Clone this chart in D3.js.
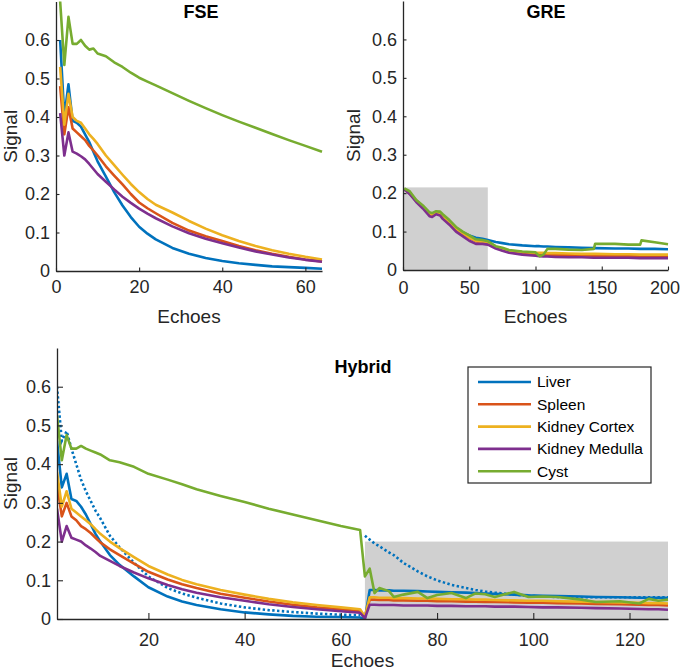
<!DOCTYPE html>
<html><head><meta charset="utf-8">
<script src="https://cdn.jsdelivr.net/npm/d3@7"></script>
<style>
body{margin:0;background:#fff;}
svg{display:block;font-family:"Liberation Sans",Arial,sans-serif;}
</style></head>
<body>
<svg id="chart" width="681" height="672"></svg>
<script>
// ---------- DATA ----------
const seriesNames = ["Liver","Spleen","Kidney Cortex","Kidney Medulla","Cyst"];

// FSE panel
const fseEchoes = [1,2,3,4,5,6,7,8,9,10,12,14,16,18,20,22,24,28,32,36,40,44,48,52,56,60,64];
const fseLiver  = [0.60,0.40,0.485,0.39,0.385,0.375,0.355,0.335,0.31,0.285,0.245,0.205,0.17,0.14,0.115,0.097,0.082,0.06,0.045,0.034,0.026,0.02,0.016,0.012,0.01,0.008,0.006];
const fseSpleen = [0.48,0.355,0.425,0.37,0.36,0.35,0.34,0.325,0.313,0.30,0.272,0.248,0.225,0.2,0.178,0.163,0.15,0.125,0.105,0.09,0.078,0.065,0.054,0.045,0.037,0.03,0.025];
const fseCortex = [0.53,0.38,0.46,0.40,0.39,0.385,0.37,0.355,0.343,0.33,0.30,0.275,0.25,0.226,0.205,0.187,0.172,0.152,0.13,0.11,0.093,0.078,0.065,0.054,0.045,0.037,0.03];
const fseMedulla= [0.41,0.30,0.36,0.31,0.305,0.298,0.29,0.278,0.265,0.252,0.232,0.212,0.193,0.177,0.162,0.149,0.137,0.116,0.098,0.084,0.072,0.061,0.051,0.043,0.035,0.029,0.024];
const fseCyst   = [0.70,0.535,0.66,0.59,0.59,0.60,0.585,0.575,0.578,0.565,0.558,0.542,0.53,0.515,0.502,0.492,0.482,0.462,0.442,0.423,0.405,0.388,0.372,0.356,0.34,0.325,0.31];

// GRE panel
const greEchoes = [1,5,10,15,20,22,25,28,30,35,40,45,50,55,60,64,70,75,80,90,100,103,106,109,115,125,135,144,145,160,170,179,180,190,200];
const greLiver  = [0.21,0.20,0.18,0.165,0.148,0.145,0.15,0.148,0.14,0.128,0.11,0.098,0.09,0.084,0.081,0.078,0.073,0.07,0.067,0.064,0.062,0.062,0.061,0.061,0.06,0.059,0.058,0.057,0.057,0.056,0.056,0.055,0.055,0.055,0.054];
const greSpleen = [0.21,0.20,0.18,0.165,0.146,0.143,0.148,0.146,0.138,0.124,0.107,0.094,0.084,0.075,0.071,0.068,0.059,0.054,0.049,0.044,0.041,0.04,0.04,0.039,0.039,0.038,0.038,0.037,0.037,0.037,0.036,0.036,0.036,0.036,0.036];
const greCortex = [0.21,0.20,0.18,0.165,0.146,0.143,0.148,0.146,0.138,0.124,0.108,0.095,0.085,0.076,0.072,0.07,0.06,0.055,0.05,0.047,0.045,0.045,0.045,0.044,0.044,0.043,0.042,0.042,0.042,0.041,0.041,0.04,0.04,0.04,0.04];
const greMedulla= [0.21,0.198,0.177,0.16,0.14,0.138,0.145,0.142,0.133,0.118,0.1,0.088,0.076,0.068,0.068,0.066,0.056,0.05,0.045,0.04,0.037,0.036,0.035,0.035,0.034,0.033,0.033,0.032,0.032,0.032,0.032,0.031,0.031,0.031,0.031];
const greCyst   = [0.212,0.205,0.182,0.168,0.15,0.148,0.153,0.152,0.145,0.13,0.112,0.1,0.09,0.08,0.078,0.075,0.062,0.058,0.052,0.048,0.046,0.036,0.04,0.055,0.055,0.053,0.052,0.055,0.068,0.068,0.066,0.066,0.077,0.072,0.067];
const greShade  = {x0: 0, x1: 64, y1: 0.215};

// Hybrid panel
const hybEchoes = [1,2,3,4,5,6,7,8,9,10,12,14,17,20,24,27,30,35,40,45,50,55,60,64,65,66,67,68,70,71,73,76,78,80,83,86,88,90,92,96,99,102,105,110,113,118,122,124,126,128];
const hybLiver  = [0.46,0.34,0.375,0.31,0.305,0.29,0.27,0.245,0.22,0.20,0.165,0.14,0.11,0.082,0.058,0.045,0.036,0.025,0.017,0.012,0.008,0.006,0.005,0.004,0.0,0.075,0.075,0.074,0.074,0.073,0.073,0.072,0.071,0.07,0.069,0.068,0.067,0.066,0.065,0.063,0.061,0.06,0.059,0.058,0.057,0.056,0.055,0.055,0.055,0.055];
const hybSpleen = [0.35,0.265,0.30,0.265,0.255,0.24,0.232,0.222,0.21,0.198,0.18,0.165,0.143,0.122,0.102,0.09,0.08,0.065,0.055,0.045,0.037,0.03,0.025,0.02,0.005,0.05,0.05,0.049,0.049,0.048,0.048,0.047,0.047,0.046,0.046,0.045,0.045,0.044,0.044,0.043,0.042,0.042,0.041,0.04,0.039,0.038,0.037,0.036,0.036,0.035];
const hybCortex = [0.38,0.29,0.33,0.285,0.275,0.265,0.255,0.245,0.232,0.22,0.2,0.183,0.16,0.137,0.115,0.101,0.09,0.075,0.063,0.052,0.043,0.036,0.03,0.025,0.006,0.056,0.056,0.055,0.055,0.054,0.054,0.053,0.053,0.052,0.051,0.051,0.05,0.05,0.049,0.048,0.047,0.047,0.046,0.045,0.044,0.043,0.042,0.041,0.041,0.04];
const hybMedulla= [0.285,0.2,0.24,0.21,0.205,0.2,0.19,0.182,0.173,0.163,0.15,0.137,0.12,0.105,0.088,0.077,0.068,0.056,0.047,0.038,0.031,0.025,0.02,0.016,0.002,0.037,0.037,0.036,0.036,0.036,0.035,0.035,0.035,0.034,0.034,0.033,0.033,0.033,0.032,0.032,0.031,0.03,0.03,0.029,0.028,0.027,0.026,0.025,0.025,0.024];
const hybCyst   = [0.525,0.41,0.475,0.44,0.44,0.447,0.44,0.435,0.43,0.425,0.41,0.405,0.393,0.375,0.36,0.348,0.335,0.318,0.302,0.285,0.27,0.255,0.24,0.23,0.11,0.13,0.067,0.08,0.072,0.057,0.063,0.07,0.054,0.062,0.067,0.054,0.066,0.064,0.057,0.07,0.057,0.058,0.057,0.05,0.044,0.046,0.04,0.052,0.047,0.05];
const hybLiverRef = [0.60,0.46,0.485,0.44,0.40,0.36,0.33,0.305,0.28,0.26,0.215,0.185,0.145,0.11,0.08,0.066,0.055,0.04,0.03,0.023,0.018,0.014,0.011,0.01,0.215,0.205,0.195,0.188,0.172,0.165,0.145,0.123,0.11,0.1,0.088,0.08,0.075,0.071,0.068,0.063,0.06,0.058,0.057,0.056,0.056,0.056,0.056,0.056,0.056,0.056];
const hybShade  = {x0: 65, x1: 128, y1: 0.2};

const yTicks = [0,0.1,0.2,0.3,0.4,0.5,0.6];
const fseXTicks = [0,20,40,60];
const greXTicks = [0,50,100,150,200];
const hybXTicks = [20,40,60,80,100,120];

// ---------- STYLE ----------
const colors = ["#0072BD","#D95319","#EDB120","#7E2F8E","#77AC30"];
const axisColor = "#262626";
const shadeColor = "#d0d0d0";

const svg = d3.select("#chart");

function panel(cfg){
  const x = d3.scaleLinear().domain(cfg.xDomain).range(cfg.xRange);
  const y = d3.scaleLinear().domain([0,0.7]).range(cfg.yRange);
  const g = svg.append("g");
  const clipId = "clip"+cfg.id;
  svg.append("clipPath").attr("id",clipId).append("rect")
    .attr("x",cfg.xRange[0]).attr("y",cfg.yRange[1]-2)
    .attr("width",cfg.xRange[1]-cfg.xRange[0]+2).attr("height",cfg.yRange[0]-cfg.yRange[1]+2);
  if(cfg.shade){
    g.append("rect").attr("x",x(cfg.shade.x0)).attr("y",y(cfg.shade.y1))
      .attr("width",x(cfg.shade.x1)-x(cfg.shade.x0)).attr("height",y(0)-y(cfg.shade.y1))
      .attr("fill",shadeColor);
  }
  const lg = g.append("g").attr("clip-path",`url(#${clipId})`);
  const line = d3.line().x((d)=>x(d[0])).y((d)=>y(d[1]));
  if(cfg.ref){
    const pts = cfg.echoes.map((e,i)=>[e,cfg.ref[i]]);
    const parts = [pts.filter(p=>p[0]<cfg.shade.x0), pts.filter(p=>p[0]>=cfg.shade.x0)];
    parts.forEach(p=>{
      lg.append("path").datum(p)
        .attr("d",line).attr("fill","none").attr("stroke",colors[0])
        .attr("stroke-width",2.6).attr("stroke-dasharray","2.4,2.4");
    });
  }
  cfg.series.forEach((vals,k)=>{
    lg.append("path").datum(cfg.echoes.map((e,i)=>[e,vals[i]]))
      .attr("d",line).attr("fill","none").attr("stroke",colors[k])
      .attr("stroke-width",2.6).attr("stroke-linejoin","round");
  });
  // axes
  const xa = g.append("g").attr("transform",`translate(0,${cfg.yRange[0]})`)
    .call(d3.axisBottom(x).tickValues(cfg.xTicks).tickFormat(d3.format("d"))
      .tickSizeInner(-cfg.tick).tickSizeOuter(0).tickPadding(cfg.xPad));
  const ya = g.append("g").attr("transform",`translate(${cfg.xRange[0]},0)`)
    .call(d3.axisLeft(y).tickValues(yTicks).tickFormat((d)=>d===0?"0":d3.format(".1f")(d))
      .tickSizeInner(-cfg.tick).tickSizeOuter(0).tickPadding(6));
  [xa,ya].forEach(a=>{
    a.select(".domain").attr("stroke",axisColor).attr("stroke-width",1.3);
    a.selectAll(".tick line").attr("stroke",axisColor).attr("stroke-width",1.1);
    a.selectAll(".tick text").attr("fill",axisColor).attr("font-size",18)
      .attr("font-family","'Liberation Sans',Arial,sans-serif");
  });
  // keep the last x tick label inside the page
  xa.selectAll(".tick text").each(function(){
    const b = this.getBBox(), m = this.getCTM();
    const right = m.e + b.x + b.width;
    if(right > 680) d3.select(this).attr("dx", 680-right);
  });
  // labels
  g.append("text").attr("x",cfg.titleX).attr("y",cfg.titleY).attr("text-anchor","middle")
    .attr("font-weight","bold").attr("font-size",18).attr("fill","#000").text(cfg.title);
  g.append("text").attr("x",(cfg.xRange[0]+cfg.xRange[1])/2).attr("y",cfg.xLabelY)
    .attr("text-anchor","middle").attr("font-size",19).attr("fill",axisColor).text("Echoes");
  g.append("text").attr("transform",`translate(${cfg.yLabelX},${(cfg.yRange[0]+cfg.yRange[1])/2}) rotate(-90)`)
    .attr("text-anchor","middle").attr("font-size",19).attr("fill",axisColor).text("Signal");
  return {x,y,g};
}

panel({id:"fse", xDomain:[0,64], xRange:[56,322], yRange:[271,1.5], xTicks:fseXTicks,
  echoes:fseEchoes, series:[fseLiver,fseSpleen,fseCortex,fseMedulla,fseCyst],
  tick:3.5, xPad:9, title:"FSE", titleX:201, titleY:18, xLabelY:323, yLabelX:17});

panel({id:"gre", xDomain:[0,200], xRange:[403,668], yRange:[270,1], xTicks:greXTicks,
  echoes:greEchoes, series:[greLiver,greSpleen,greCortex,greMedulla,greCyst], shade:greShade,
  tick:3.5, xPad:11, title:"GRE", titleX:546, titleY:18, xLabelY:323, yLabelX:360});

panel({id:"hyb", xDomain:[1,128], xRange:[57,668], yRange:[619,348], xTicks:hybXTicks,
  echoes:hybEchoes, series:[hybLiver,hybSpleen,hybCortex,hybMedulla,hybCyst], ref:hybLiverRef, shade:hybShade,
  tick:6, xPad:14, title:"Hybrid", titleX:363, titleY:373, xLabelY:667, yLabelX:17});

// legend
const leg = svg.append("g");
leg.append("rect").attr("x",468).attr("y",367).attr("width",183).attr("height",116)
  .attr("fill","#fff").attr("stroke",axisColor).attr("stroke-width",1.2);
seriesNames.forEach((n,i)=>{
  const yy = 382 + i*22.3;
  leg.append("line").attr("x1",478).attr("x2",531).attr("y1",yy).attr("y2",yy)
    .attr("stroke",colors[i]).attr("stroke-width",2.6);
  leg.append("text").attr("x",537).attr("y",yy).attr("dy","0.35em")
    .attr("font-size",15.5).attr("fill","#000").text(n);
});
</script>
</body></html>
